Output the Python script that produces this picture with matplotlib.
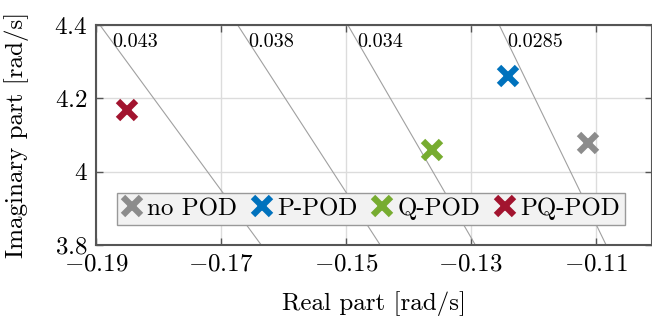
import numpy as np
import matplotlib
matplotlib.use("Agg")
import matplotlib.pyplot as plt

# dados
casos = ['no POD', 'P-POD', 'Q-POD', 'PQ-POD']
parte_real = [-0.1113, -0.1241, -0.1362, -0.1850]
parte_imag = [4.078, 4.261, 4.059, 4.168]
cores = ['#8c8c8c', '#0072BD', '#77AC30', '#A2142F']

amortecimentos = [0.043, 0.038, 0.034, 0.0285]
rotulos_amort = ['0.043', '0.038', '0.034', '0.0285']
y_rotulo = 4.354

xticks = [-0.19, -0.17, -0.15, -0.13, -0.11]
xtick_labels = [r'$-0.19$', r'$-0.17$', r'$-0.15$', r'$-0.13$', r'$-0.11$']
yticks = [3.8, 4.0, 4.2, 4.4]
ytick_labels = [r'$3.8$', r'$4$', r'$4.2$', r'$4.4$']

plt.rcParams['font.family'] = 'serif'
plt.rcParams['font.serif'] = ['cmr10']
plt.rcParams['mathtext.fontset'] = 'cm'
plt.rcParams['axes.unicode_minus'] = False

fig = plt.figure(figsize=(6.52, 3.25), dpi=100)
ax = fig.add_axes([96 / 652, 80 / 325, 556 / 652, 220 / 325])
ax.set_xlim(-0.19, -0.101)
ax.set_ylim(3.8, 4.4)

# linhas de amortecimento constante
ys = np.array([3.8, 4.4])
for z, rot in zip(amortecimentos, rotulos_amort):
    k = z / np.sqrt(1 - z ** 2)
    ax.plot(-k * ys, ys, color='#a0a0a0', lw=0.8, zorder=1)
    ax.text(-k * y_rotulo, y_rotulo, rot, ha='left', va='center', fontsize=14.5, zorder=3)

for nome, x, y, c in zip(casos, parte_real, parte_imag, cores):
    ax.plot(x, y, linestyle='none', marker='x', ms=13, mew=4.5, color=c, label=nome, zorder=4)

ax.set_xticks(xticks)
ax.set_xticklabels(xtick_labels, fontsize=18)
ax.set_yticks(yticks)
ax.set_yticklabels(ytick_labels, fontsize=18)
ax.tick_params(direction='in', top=True, right=True, length=5, width=1, color='#555555', pad=6)
ax.grid(True, color='#dcdcdc', lw=1)
ax.set_axisbelow(True)
for s in ax.spines.values():
    s.set_color('#555555')
    s.set_linewidth(1.5)

ax.set_xlabel('Real part [rad/s]', fontsize=18, labelpad=11)
ax.set_ylabel('Imaginary part [rad/s]', fontsize=18, labelpad=18)

leg = ax.legend(loc='center', bbox_to_anchor=(0.4946, 0.164), ncol=4, fontsize=18,
                handlelength=0.8, handletextpad=0.2, columnspacing=0.6,
                borderpad=0.2, fancybox=False, framealpha=1, borderaxespad=0)
leg.get_frame().set_facecolor('#f2f2f2')
leg.get_frame().set_edgecolor('#999999')

fig.savefig('out.png', dpi=100)
